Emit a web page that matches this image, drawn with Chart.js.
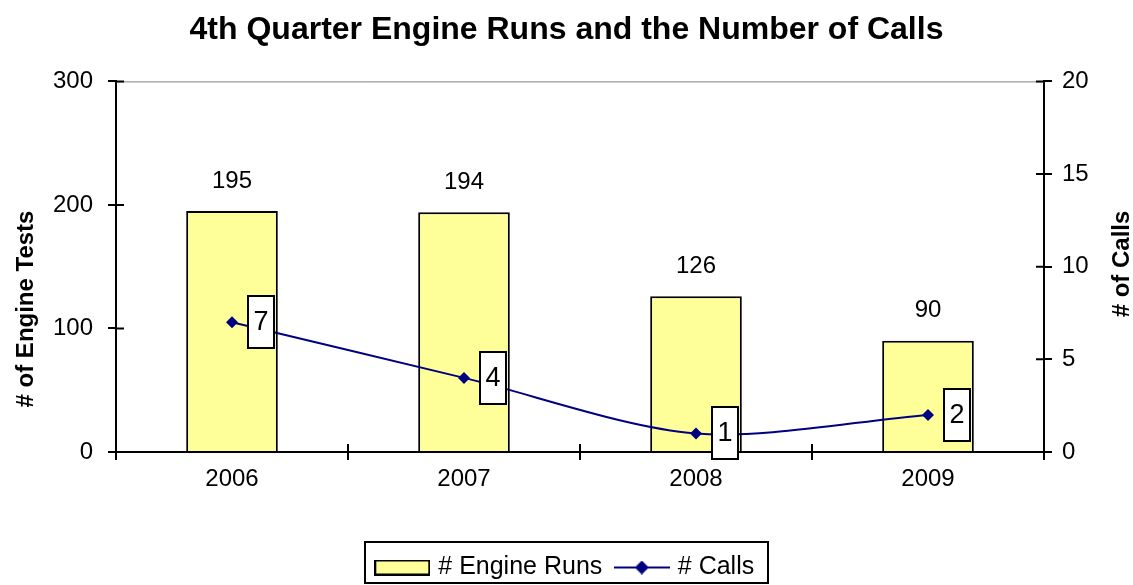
<!DOCTYPE html>
<html>
<head>
<meta charset="utf-8">
<script src="https://cdn.jsdelivr.net/npm/chart.js@4/dist/chart.umd.min.js"></script>
<style>
  body { margin: 0; background: #fff; }
  #wrap { width: 1133px; height: 585px; }
</style>
</head>
<body>
<div id="wrap"><canvas id="chart" width="1133" height="585"></canvas></div>
<script>
const years = ["2006", "2007", "2008", "2009"];
const engineRuns = [195, 194, 126, 90];
const calls = [7, 4, 1, 2];
const leftTicks = [0, 100, 200, 300];
const rightTicks = [0, 5, 10, 15, 20];

const FONT = "'Liberation Sans', Arial, sans-serif";
const NAVY = "#000080";
const YELLOW = "#FFFF99";
const PLOT_BOTTOM = 452;

// legend icons
function barIcon() {
  const c = document.createElement("canvas");
  c.width = 56; c.height = 16;
  const g = c.getContext("2d");
  g.fillStyle = YELLOW;
  g.fillRect(1, 1, 54, 14);
  g.strokeStyle = "#000";
  g.lineWidth = 2;
  g.strokeRect(1, 1, 54, 14);
  return c;
}
function lineIcon() {
  const c = document.createElement("canvas");
  c.width = 56; c.height = 14;
  const g = c.getContext("2d");
  g.strokeStyle = NAVY;
  g.lineWidth = 2;
  g.beginPath(); g.moveTo(0, 7); g.lineTo(56, 7); g.stroke();
  g.fillStyle = NAVY;
  g.beginPath(); g.moveTo(28, 0); g.lineTo(35, 7); g.lineTo(28, 14); g.lineTo(21, 7); g.closePath(); g.fill();
  return c;
}

const decor = {
  id: "decor",
  afterDatasetsDraw(chart) {
    const ctx = chart.ctx;
    const a = chart.chartArea;
    const x = chart.scales.x, y = chart.scales.y, y1 = chart.scales.y1;
    ctx.save();
    // plot area top border
    ctx.strokeStyle = "#808080";
    ctx.lineWidth = 1;
    ctx.beginPath(); ctx.moveTo(a.left, a.top + 0.5); ctx.lineTo(a.right, a.top + 0.5); ctx.stroke();

    // inner halves of the crossing tick marks
    ctx.strokeStyle = "#000";
    ctx.lineWidth = 2;
    ctx.beginPath();
    leftTicks.forEach(v => { const p = y.getPixelForValue(v); ctx.moveTo(a.left, p); ctx.lineTo(a.left + 8, p); });
    rightTicks.forEach(v => { const p = y1.getPixelForValue(v); ctx.moveTo(a.right, p); ctx.lineTo(a.right - 8, p); });
    for (let i = 0; i <= years.length; i++) {
      const p = x.getPixelForValue(i - 0.5);
      ctx.moveTo(p, a.bottom); ctx.lineTo(p, a.bottom - 8);
    }
    ctx.stroke();

    // bar value labels
    ctx.fillStyle = "#000";
    ctx.font = "24px " + FONT;
    ctx.textAlign = "center";
    ctx.textBaseline = "middle";
    chart.getDatasetMeta(0).data.forEach((b, i) => {
      ctx.fillText(String(engineRuns[i]), b.x, b.y - 30);
    });

    // line value labels in boxes
    ctx.font = "27px " + FONT;
    chart.getDatasetMeta(1).data.forEach((p, i) => {
      const bx = Math.round(p.x + 16), by = Math.round(p.y - 26);
      ctx.fillStyle = "#fff";
      ctx.fillRect(bx, by, 26, 52);
      ctx.strokeStyle = "#000";
      ctx.lineWidth = 2;
      ctx.strokeRect(bx, by, 26, 52);
      ctx.fillStyle = "#000";
      ctx.fillText(String(calls[i]), bx + 13, by + 27);
    });

    // axis titles, both reading bottom to top
    ctx.font = "bold 24px " + FONT;
    ctx.save();
    ctx.translate(26, 309);
    ctx.rotate(-Math.PI / 2);
    ctx.fillText("# of Engine Tests", 0, 0);
    ctx.restore();
    ctx.save();
    ctx.translate(1122, 264);
    ctx.rotate(-Math.PI / 2);
    ctx.fillText("# of Calls", 0, 0);
    ctx.restore();
    ctx.restore();
  },
  afterDraw(chart) {
    const boxes = chart.legend.legendHitBoxes;
    if (!boxes || !boxes.length) return;
    const ctx = chart.ctx;
    const l = Math.min(...boxes.map(b => b.left)) - 14;
    const r = Math.max(...boxes.map(b => b.left + b.width)) + 14;
    const mid = boxes[0].top + boxes[0].height / 2;
    const top = Math.round(mid - 26);
    const bottom = Math.min(Math.round(mid + 16), chart.height - 2);
    ctx.save();
    ctx.strokeStyle = "#000";
    ctx.lineWidth = 2;
    ctx.strokeRect(Math.round(l), top, Math.round(r - l), bottom - top);
    ctx.restore();
  }
};

const icons = [barIcon(), lineIcon()];

new Chart(document.getElementById("chart"), {
  data: {
    labels: years,
    datasets: [
      {
        type: "bar",
        label: "# Engine Runs",
        data: engineRuns,
        yAxisID: "y",
        backgroundColor: YELLOW,
        borderColor: "#000",
        borderWidth: 2,
        barPercentage: 0.395,
        categoryPercentage: 1,
        order: 2
      },
      {
        type: "line",
        label: "# Calls",
        data: calls,
        yAxisID: "y1",
        borderColor: NAVY,
        borderWidth: 2,
        backgroundColor: NAVY,
        pointStyle: "rectRot",
        pointRadius: 6,
        pointBorderWidth: 0,
        tension: 0.3,
        order: 1
      }
    ]
  },
  options: {
    responsive: false,
    animation: false,
    layout: { padding: { left: 0, right: 0, top: 0, bottom: -5 } },
    plugins: {
      tooltip: { enabled: false },
      title: {
        display: true,
        text: "4th Quarter Engine Runs and the Number of Calls",
        color: "#000",
        font: { family: FONT, size: 32, weight: "bold" },
        padding: { top: 11, bottom: 32 }
      },
      legend: {
        position: "bottom",
        labels: {
          color: "#000",
          font: { family: FONT, size: 25 },
          usePointStyle: true,
          pointStyleWidth: 47,
          padding: 16,
          generateLabels: () => [
            { text: "# Engine Runs", pointStyle: icons[0], datasetIndex: 0, fontColor: "#000", lineWidth: 0 },
            { text: "# Calls", pointStyle: icons[1], datasetIndex: 1, fontColor: "#000", lineWidth: 0 }
          ]
        }
      }
    },
    scales: {
      x: {
        type: "category",
        offset: true,
        grid: { offset: true, drawOnChartArea: false, drawTicks: true, tickLength: 8, color: "#000", lineWidth: 2 },
        border: { display: true, color: "#000", width: 2 },
        ticks: { color: "#000", font: { family: FONT, size: 24 }, padding: 5 },
        afterFit: s => { s.height = 585 + 5 - s.chart.legend.height - PLOT_BOTTOM; }
      },
      y: {
        position: "left",
        min: 0, max: 300,
        ticks: { stepSize: 100, color: "#000", font: { family: FONT, size: 24 }, padding: 15 },
        grid: { drawOnChartArea: false, tickLength: 8, color: "#000", lineWidth: 2 },
        border: { display: true, color: "#000", width: 2 },
        afterFit: s => { s.width = 116; }
      },
      y1: {
        position: "right",
        min: 0, max: 20,
        ticks: { stepSize: 5, color: "#000", font: { family: FONT, size: 24 }, padding: 10 },
        grid: { drawOnChartArea: false, tickLength: 8, color: "#000", lineWidth: 2 },
        border: { display: true, color: "#000", width: 2 },
        afterFit: s => { s.width = 89; }
      }
    }
  },
  plugins: [decor]
});
</script>
</body>
</html>
